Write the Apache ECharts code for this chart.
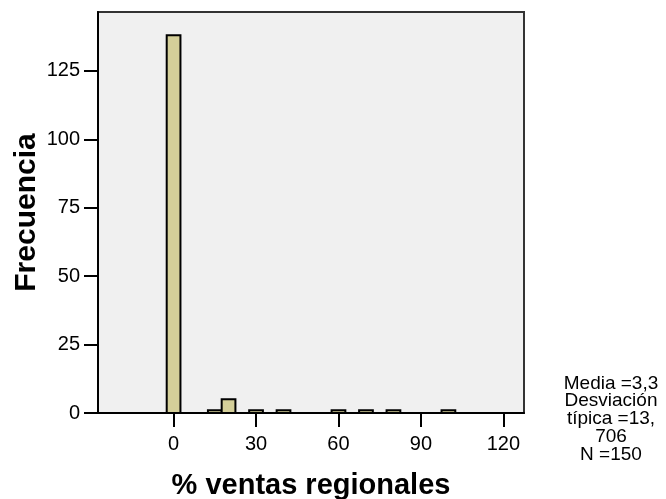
<!DOCTYPE html>
<html>
<head>
<meta charset="utf-8">
<script src="https://cdn.jsdelivr.net/npm/echarts@6/dist/echarts.min.js"></script>
<style>html,body{margin:0;padding:0;background:#fff}#c{width:666px;height:499px}</style>
</head>
<body>
<div id="c"></div>
<script>
const binCenters = [0, 15, 20, 30, 40, 60, 70, 80, 100];
const binCounts = [138, 1, 5, 1, 1, 1, 1, 1, 1];
const binWidth = 5;
const xTicks = [0, 30, 60, 90, 120];
const yTicks = [0, 25, 50, 75, 100, 125];
const xTitle = '% ventas regionales';
const yTitle = 'Frecuencia';
const statsLines = ['Media =3,3', 'Desviación', 'típica =13,', '706', 'N =150'];

const FONT = 'Liberation Sans, Arial, sans-serif';
const chart = echarts.init(document.getElementById('c'));
chart.setOption({
  animation: false,
  grid: { left: 98, top: 12, width: 426, height: 401, outerBoundsMode: 'none', containLabel: false, show: true, backgroundColor: '#f0f0f0', borderColor: '#333', borderWidth: 2 },
  xAxis: {
    type: 'value', min: -27.5, max: 127.5,
    name: xTitle, nameLocation: 'middle', nameGap: 58, nameMoveOverlap: false,
    nameTextStyle: { fontFamily: FONT, fontSize: 29, fontWeight: 'bold', color: '#000' },
    axisLine: { show: true, onZero: false, lineStyle: { color: '#000', width: 2 } },
    axisTick: { show: true, customValues: xTicks, length: 14, lineStyle: { color: '#000', width: 2 } },
    axisLabel: { customValues: xTicks, margin: 21, fontFamily: FONT, fontSize: 20, color: '#000' },
    splitLine: { show: false }
  },
  yAxis: {
    type: 'value', min: 0, max: 146.5,
    name: yTitle, nameLocation: 'middle', nameGap: 56, nameRotate: 90, nameMoveOverlap: false,
    nameTextStyle: { fontFamily: FONT, fontSize: 30, fontWeight: 'bold', color: '#000' },
    axisLine: { show: true, onZero: false, lineStyle: { color: '#000', width: 2 } },
    axisTick: { show: true, customValues: yTicks, length: 14, lineStyle: { color: '#000', width: 2 } },
    axisLabel: { customValues: yTicks, margin: 18, fontFamily: FONT, fontSize: 20, color: '#000' },
    splitLine: { show: false }
  },
  series: [{
    type: 'custom',
    data: binCenters.map((c, i) => [c, binCounts[i]]),
    renderItem: function (params, api) {
      const x = api.value(0), y = api.value(1);
      const p0 = api.coord([x - binWidth / 2, y]);
      const p1 = api.coord([x + binWidth / 2, 0]);
      return {
        type: 'rect',
        shape: { x: p0[0], y: p0[1], width: p1[0] - p0[0], height: p1[1] - p0[1] },
        style: { fill: '#d4cf99', stroke: '#000', lineWidth: 2 }
      };
    }
  }],
  graphic: statsLines.map((t, i) => ({
    type: 'text', x: 611, y: 374 + i * 17.7,
    style: {
      text: t, align: 'center', textAlign: 'center',
      fontFamily: FONT, fontSize: 19, fill: '#000'
    }
  }))
});
</script>
</body>
</html>
